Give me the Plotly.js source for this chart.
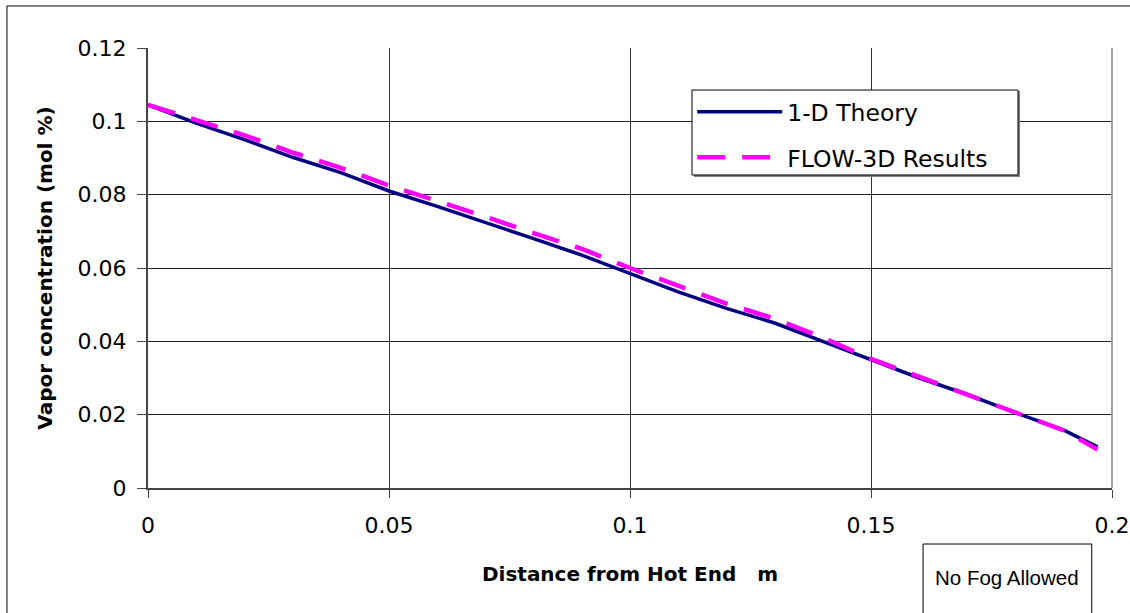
<!DOCTYPE html>
<html>
<head>
<meta charset="utf-8">
<script src="https://cdn.plot.ly/plotly-3.0.1.min.js"></script>
<style>
  html, body { margin: 0; padding: 0; background: #fff; overflow: hidden; }
  #chart { width: 1130px; height: 613px; }
</style>
</head>
<body>
<div id="chart"></div>
<script>
// ---- data ----
const distance = [0, 0.01, 0.02, 0.03, 0.04, 0.05, 0.06, 0.07, 0.08, 0.09, 0.10,
                  0.11, 0.12, 0.13, 0.14, 0.15, 0.16, 0.17, 0.18, 0.19, 0.197];
const theory1D = [0.1045, 0.0995, 0.0950, 0.0902, 0.0860, 0.0810, 0.0768, 0.0725, 0.0680, 0.0635, 0.0585,
                  0.0535, 0.0490, 0.0450, 0.0400, 0.0350, 0.0300, 0.0255, 0.0205, 0.0158, 0.0112];
const flow3D   = [0.1045, 0.1002, 0.0962, 0.0915, 0.0873, 0.0825, 0.0783, 0.0740, 0.0695, 0.0652, 0.0600,
                  0.0553, 0.0503, 0.0462, 0.0410, 0.0352, 0.0303, 0.0255, 0.0203, 0.0157, 0.0105];
const seriesNames = ["1-D Theory", "FLOW-3D Results"];
const xTitle = "Distance from Hot End\u00a0\u00a0\u00a0m";
const yTitle = "Vapor concentration (mol %)";
const noteText = "No Fog Allowed";

const tickFont = { family: "DejaVu Sans", size: 22, color: "#000" };
const titleFont = { family: "DejaVu Sans", size: 20, color: "#000", weight: "bold" };

const traces = [
  { x: distance, y: theory1D, name: seriesNames[0], type: "scatter", mode: "lines",
    line: { color: "#000080", width: 3.5 }, legendgroup: "a" },
  { x: distance, y: flow3D, name: seriesNames[1], type: "scatter", mode: "lines",
    line: { color: "#FF00FF", width: 4.5, dash: "28px,17px" }, legendgroup: "b" }
];

const layout = {
  width: 1130, height: 613,
  margin: { l: 148, r: 18, t: 48, b: 125, pad: 0 },
  paper_bgcolor: "#fff", plot_bgcolor: "#fff",
  showlegend: true,
  legend: {
    x: 0.5645, y: 0.9045, xanchor: "left", yanchor: "top",
    bgcolor: "rgba(0,0,0,0)", borderwidth: 0,
    font: { family: "DejaVu Sans", size: 23.5, color: "#000" },
    itemwidth: 85, traceorder: "grouped", tracegroupgap: 12
  },
  xaxis: {
    range: [0, 0.2], dtick: 0.05, tick0: 0, tickmode: "linear",
    showgrid: true, gridcolor: "#333", gridwidth: 1,
    showline: true, linecolor: "#444", linewidth: 2,
    ticks: "outside", ticklen: 8, tickcolor: "#444", tickwidth: 1,
    tickfont: tickFont, ticklabelstandoff: 9, zeroline: false,
    title: { text: xTitle, font: titleFont, standoff: 30 }
  },
  yaxis: {
    range: [0, 0.12], dtick: 0.02, tick0: 0, tickmode: "linear",
    showgrid: true, gridcolor: "#222", gridwidth: 1,
    showline: true, linecolor: "#444", linewidth: 2,
    ticks: "outside", ticklen: 9, tickcolor: "#444", tickwidth: 1,
    tickfont: tickFont, ticklabelstandoff: 6, zeroline: false,
    title: { text: yTitle, font: titleFont, standoff: 20 }
  },
  shapes: [
    { type: "rect", xref: "paper", yref: "paper", x0: -0.1463, x1: 2, y0: -1, y1: 1.0955,
      line: { color: "#000", width: 1 }, fillcolor: "rgba(0,0,0,0)", layer: "below" },
    { type: "line", xref: "paper", yref: "paper", x0: 1, x1: 1, y0: 0, y1: 1,
      line: { color: "#a0a0a0", width: 2 } },
    { type: "rect", xref: "paper", yref: "paper", x0: 0.804, x1: 0.979, y0: -0.6, y1: -0.1273,
      line: { color: "#000", width: 1 }, fillcolor: "#fff" },
    // legend frame (shadow + box)
    { type: "rect", xref: "paper", yref: "paper", x0: 0.5664, x1: 0.9046, y0: 0.7068, y1: 0.9023,
      line: { width: 0 }, fillcolor: "#808080", layer: "above" },
    { type: "rect", xref: "paper", yref: "paper", x0: 0.5643, x1: 0.9025, y0: 0.7114, y1: 0.9045,
      line: { color: "#000", width: 1 }, fillcolor: "#fff", layer: "above" }
  ],
  annotations: [
    { text: noteText, xref: "paper", yref: "paper", x: 0.891, y: -0.2023,
      xanchor: "center", yanchor: "middle", showarrow: false,
      font: { family: "Liberation Sans", size: 20.5, color: "#000" } }
  ]
};

Plotly.newPlot("chart", traces, layout, { displayModeBar: false, staticPlot: true });
</script>
</body>
</html>
